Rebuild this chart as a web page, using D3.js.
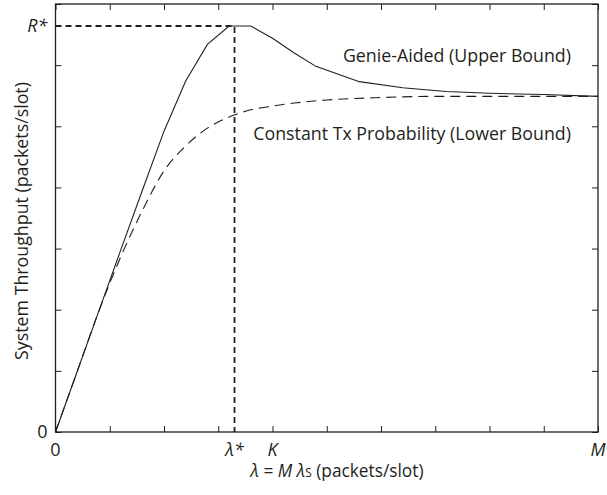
<!DOCTYPE html>
<html>
<head>
  <meta charset="utf-8">
  <script src="https://d3js.org/d3.v7.min.js"></script>
  <style>
    body { margin: 0; background: #fff; }
    text { font-family: "Open Sans", sans-serif; fill: #231f20; }
    .frame { fill: none; stroke: #231f20; stroke-width: 1.3; }
    .tick line { stroke: #231f20; }
  </style>
</head>
<body>
<div id="chart"></div>
<script>
  // offered load (in units where M = 10) and throughput
  var upperX = [0, 0.4, 0.8, 1.2, 1.6, 2.0, 2.4, 2.8, 3.2, 3.6, 4.0, 4.4, 4.8, 5.6, 6.4, 7.2, 8.0, 9.0, 10];
  var upperY = [0, 0.99, 1.98, 2.97, 3.95, 4.92, 5.74, 6.34, 6.64, 6.64, 6.44, 6.2, 5.98, 5.73, 5.63, 5.57, 5.54, 5.52, 5.49];
  var lowerX = [0, 0.4, 0.8, 1.2, 1.6, 2.0, 2.4, 2.8, 3.2, 3.6, 4.0, 4.4, 5.0, 6.0, 7.0, 8.0, 10];
  var lowerY = [0, 0.99, 1.98, 2.86, 3.62, 4.27, 4.68, 4.97, 5.15, 5.27, 5.33, 5.38, 5.43, 5.47, 5.49, 5.49, 5.49];
  var lambdaStar = 3.3, rStar = 6.64, kVal = 4, mVal = 10;
  var xTickLabels = [[0, "0"], [lambdaStar, "\u03bb*"], [kVal, "K"], [mVal, "M"]];
  var yTickLabels = [[0, "0"], [rStar, "R*"]];

  var width = 607, height = 495;
  var mLeft = 55.5, mRight = 598, mTop = 4, mBottom = 432;

  var svg = d3.select('#chart').append('svg')
    .attr('width', width)
    .attr('height', height);

  var x = d3.scaleLinear().domain([0, 10]).range([mLeft, mRight]);
  var y = d3.scaleLinear().domain([0, 7]).range([mBottom, mTop]);

  // inward ticks on all four sides
  svg.append('g').attr('transform', 'translate(0,' + mBottom + ')')
    .call(d3.axisTop(x).ticks(10).tickSize(6).tickFormat(''))
    .call(function(g) { g.select('.domain').remove(); });
  svg.append('g').attr('transform', 'translate(0,' + mTop + ')')
    .call(d3.axisBottom(x).ticks(10).tickSize(6).tickFormat(''))
    .call(function(g) { g.select('.domain').remove(); });
  svg.append('g').attr('transform', 'translate(' + mLeft + ',0)')
    .call(d3.axisRight(y).ticks(7).tickSize(6).tickFormat(''))
    .call(function(g) { g.select('.domain').remove(); });
  svg.append('g').attr('transform', 'translate(' + mRight + ',0)')
    .call(d3.axisLeft(y).ticks(7).tickSize(6).tickFormat(''))
    .call(function(g) { g.select('.domain').remove(); });

  svg.append('rect').attr('class', 'frame')
    .attr('x', mLeft).attr('y', mTop)
    .attr('width', mRight - mLeft).attr('height', mBottom - mTop);

  // reference lines for the peak
  svg.append('path')
    .attr('d', 'M' + x(0) + ',' + y(rStar) + 'H' + x(lambdaStar) + 'V' + y(0))
    .attr('fill', 'none')
    .attr('stroke', '#231f20')
    .attr('stroke-width', 1.8)
    .attr('stroke-dasharray', '6,4');

  var upper = upperX.map(function(d, i) { return [d, upperY[i]]; });
  var lower = lowerX.map(function(d, i) { return [d, lowerY[i]]; });

  svg.append('path').datum(upper)
    .attr('d', d3.line().x(function(d) { return x(d[0]); }).y(function(d) { return y(d[1]); }))
    .attr('fill', 'none')
    .attr('stroke', '#231f20')
    .attr('stroke-width', 1.1);

  svg.append('path').datum(lower)
    .attr('d', d3.line().curve(d3.curveMonotoneX).x(function(d) { return x(d[0]); }).y(function(d) { return y(d[1]); }))
    .attr('fill', 'none')
    .attr('stroke', '#231f20')
    .attr('stroke-width', 1.1)
    .attr('stroke-dasharray', '10,6');

  // tick labels
  svg.selectAll('.xl').data(xTickLabels).enter().append('text')
    .attr('x', function(d) { return x(d[0]); })
    .attr('y', 456)
    .attr('text-anchor', 'middle')
    .attr('font-size', 18)
    .attr('font-style', function(d) { return d[1] === '0' ? 'normal' : 'italic'; })
    .text(function(d) { return d[1]; });

  svg.selectAll('.yl').data(yTickLabels).enter().append('text')
    .attr('x', mLeft - 8)
    .attr('y', function(d) { return y(d[0]) + 6; })
    .attr('text-anchor', 'end')
    .attr('font-size', 18)
    .attr('font-style', function(d) { return d[1] === '0' ? 'normal' : 'italic'; })
    .text(function(d) { return d[1]; });

  // curve annotations
  svg.append('text').attr('x', 571).attr('y', 62)
    .attr('text-anchor', 'end').attr('font-size', 17.8)
    .text('Genie-Aided (Upper Bound)');
  svg.append('text').attr('x', 571).attr('y', 140)
    .attr('text-anchor', 'end').attr('font-size', 17.8)
    .text('Constant Tx Probability (Lower Bound)');

  // axis titles
  var xt = svg.append('text').attr('x', 337).attr('y', 477)
    .attr('text-anchor', 'middle').attr('font-size', 17.3);
  xt.append('tspan').attr('font-style', 'italic').text('\u03bb');
  xt.append('tspan').text(' = ');
  xt.append('tspan').attr('font-style', 'italic').text('M \u03bb');
  xt.append('tspan').attr('font-size', 12).text('S');
  xt.append('tspan').text(' (packets/slot)');

  svg.append('text')
    .attr('transform', 'translate(28,221) rotate(-90)')
    .attr('text-anchor', 'middle').attr('font-size', 17.8)
    .text('System Throughput (packets/slot)');
</script>
</body>
</html>
